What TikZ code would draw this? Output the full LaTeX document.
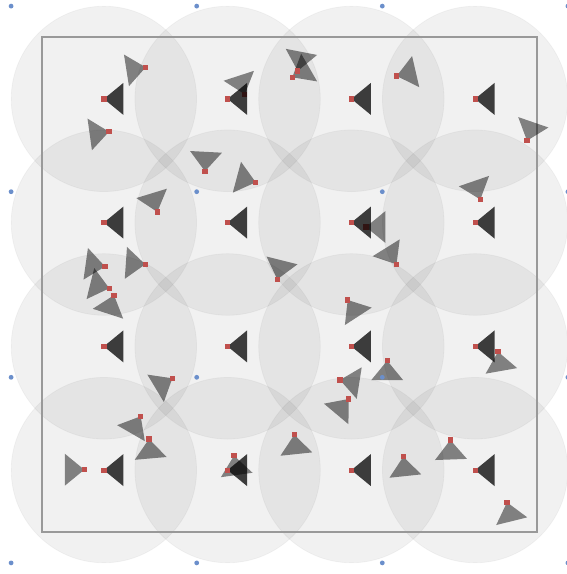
\documentclass[tikz,border=0pt]{standalone}
\definecolor{sred}{HTML}{C0504D}
\definecolor{sblue}{HTML}{6B8FCB}
\tikzset{
  zone/.style={fill=black, fill opacity=0.055, draw=black, draw opacity=0.035, line width=0.8pt},
  area/.style={draw=black!40, line width=1.6pt},
  fovgray/.style={fill=black, fill opacity=0.47},
  fovdark/.style={fill=black, fill opacity=0.75},
  redpt/.style={fill=sred},
  bluept/.style={fill=sblue}
}
\newcommand{\fovtri}[4]{\fill[#4] (#1,#2) -- +(#3-39.4:25.2) -- +(#3+39.4:25.2) -- cycle;}
\newcommand{\sdot}[2]{\fill[redpt] (#1-2.6,#2-2.6) rectangle (#1+2.6,#2+2.6);}
\begin{document}
\begin{tikzpicture}[x=1pt,y=-1pt]
\useasboundingbox (0,0) rectangle (566,574);
% coverage zones
\foreach \cx in {103.9,227.6,351.4,475.1}{
  \foreach \cy in {98.9,222.6,346.4,470.1}{
    \path[zone] (\cx,\cy) circle (92.7);
  }
}
% monitored area
\draw[area] (42,37) rectangle (537,532);
% randomly placed sensors
\foreach \sx/\sy/\sa in {
  145.7/67.3/171, 109/131.7/172, 244.8/94.3/252, 297.7/71/-79, 292.3/77.3/-30,
  205/171.3/-87, 255.7/182.3/195, 396.7/76/-13, 527/140.7/-71, 480.3/199.5/-109,
  157.3/212/-107, 105/266.5/188, 145.3/264.3/184, 109.3/288.3/194, 114/295.2/108,
  172.3/378.3/149, 277.3/279.3/-76, 347.7/300/57, 366/227/0, 396.5/264.3/-122,
  498/351.7/80, 387.2/360.7/90, 340/380/9, 348.7/399/130, 294.3/434.7/84,
  234/455.7/82, 140.7/416.3/120, 149/439/85, 84.3/469.7/180, 450.3/440/88,
  403.3/456.7/84, 507/502.3/76}{
  \fovtri{\sx}{\sy}{\sa}{fovgray}
}
\foreach \sx/\sy in {
  145.7/67.3, 109/131.7, 244.8/94.3, 297.7/71, 292.3/77.3,
  205/171.3, 255.7/182.3, 396.7/76, 527/140.7, 480.3/199.5,
  157.3/212, 105/266.5, 145.3/264.3, 109.3/288.3, 114/295.2,
  172.3/378.3, 277.3/279.3, 347.7/300, 366/227, 396.5/264.3,
  498/351.7, 387.2/360.7, 340/380, 348.7/399, 294.3/434.7,
  234/455.7, 140.7/416.3, 149/439, 84.3/469.7, 450.3/440,
  403.3/456.7, 507/502.3}{
  \sdot{\sx}{\sy}
}
% grid sensors
\foreach \cx in {103.9,227.6,351.4,475.1}{
  \foreach \cy in {98.9,222.6,346.4,470.1}{
    \fovtri{\cx}{\cy}{0}{fovdark}
    \sdot{\cx}{\cy}
  }
}
% anchor points
\foreach \bx in {11.1,196.7,382.3,567.9}{
  \foreach \by in {6.1,191.7,377.3,562.9}{
    \fill[bluept] (\bx,\by) circle (2.4);
  }
}
\end{tikzpicture}
\end{document}
